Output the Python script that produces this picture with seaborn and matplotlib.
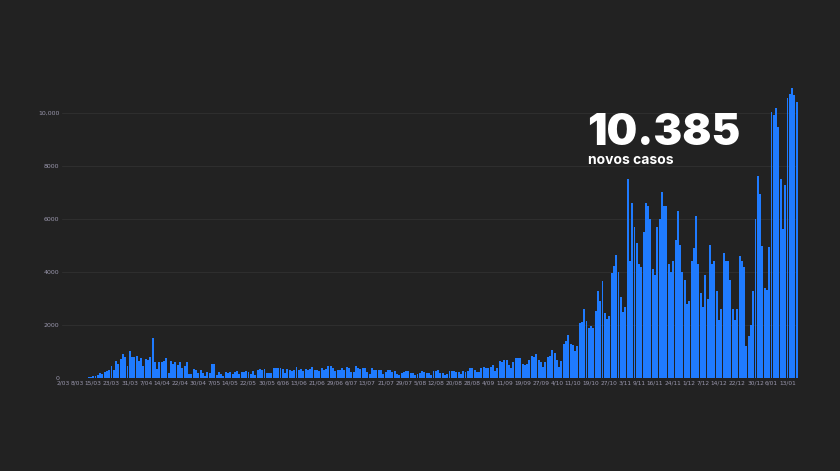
import matplotlib
matplotlib.use("Agg")
import matplotlib.pyplot as plt
import seaborn as sns
import pandas as pd

mar = [2,2,1,4,4,8,9,9,11,18,19,34,57,76,86,117,194,143,235,260,320,460,302,633,549,724,902,792,446,1035]
apr = [808,783,852,638,754,452,712,699,815,1516,598,349,598,629,643,750,181,657,521,629,516,603,371,444,595,163,174,345,305,183]
may = [295,181,92,242,178,533,553,138,226,174,98,234,187,219,173,228,288,175,223,252,288,252,163,257,138,295,350,304,350,193,200]
jun = [195,366,376,382,377,330,192,346,294,288,294,421,294,335,287,345,311,346,417,323,326,259,367,311,343,451,457,366,265,313]
jul = [328,402,313,413,374,229,232,443,375,339,374,402,219,175,375,297,319,312,305,167,229,315,312,247,253,174,135,203,227,266,255]
aug = [211,204,106,141,204,278,233,188,186,134,253,290,325,181,193,135,151,256,259,289,226,222,174,283,236,285,401,387,325,229,232]
sep = [392,410,390,387,406,486,271,386,646,620,687,673,486,401,613,770,780,770,552,509,553,691,827,797,898,684,609,425,611,791]
oct_ = [848,1077,963,700,427,649,1302,1394,1646,1278,1249,1017,1200,2072,2101,2608,2153,1889,1949,1876,2535,3270,2899,3669,2447,2240,2344,3960,4224,4656,4007]
nov = [3062,2506,2696,7497,4400,6600,5700,5100,4300,4200,5500,6600,6500,6000,4100,3900,5700,6000,7000,6500,6500,4300,4000,4400,5200,6300,5000,4000,3700,2800]
dec = [2900,4400,4900,6100,4300,3200,2700,3900,3000,5000,4300,4400,3300,2200,2600,4700,4400,4400,3700,2600,2200,2600,4600,4400,4200,1200,1600,2000,3300,6000,7600]
jan = [6951,4963,3384,3310,4956,10027,9927,10176,9478,7502,5604,7259,10556,10698,10947,10663,10385]
tick_labels = ["2/03","8/03","15/03","23/03","31/03","7/04","14/04","22/04","30/04","7/05","14/05","22/05",
               "30/05","6/06","13/06","21/06","29/06","6/07","13/07","21/07","29/07","5/08","12/08","20/08",
               "28/08","4/09","11/09","19/09","27/09","4/10","11/10","19/10","27/10","3/11","9/11","16/11",
               "24/11","1/12","7/12","14/12","22/12","30/12","6/01","13/01"]

values = mar+apr+may+jun+jul+aug+sep+oct_+nov+dec+jan
dates = pd.date_range("2020-03-02", periods=len(values))
labels = [f"{d.day}/{d.month:02d}" for d in dates]
df = pd.DataFrame({"d": labels, "v": values, "i": range(len(values))})

bg = "#222222"
sns.set_style("dark")
fig = plt.figure(figsize=(8.4, 4.71), dpi=100, facecolor=bg)
ax = fig.add_axes([0.074, 0.197, 0.876, 0.623])
ax.set_facecolor(bg)
sns.barplot(data=df, x="i", y="v", color="#1f7bff", saturation=1, width=0.85, ax=ax, edgecolor="none")
ax.set_xlim(-0.6, len(values) - 0.4)
ax.set_ylim(0, 11050)
pos = [labels.index(t) for t in tick_labels]
ax.set_xticks(pos)
ax.set_xticklabels(tick_labels, fontsize=4.2, color="#9a97ad")
ax.set_yticks([0, 2000, 4000, 6000, 8000, 10000])
ax.set_yticklabels(["0", "2000", "4000", "6000", "8000", "10,000"], fontsize=4.5, color="#9a97ad")
ax.tick_params(length=0, pad=2)
ax.grid(axis="y", color="#2e2e2e", linewidth=0.8)
ax.grid(axis="x", visible=False)
ax.set_axisbelow(True)
ax.set_xlabel(""); ax.set_ylabel("")
for s in ax.spines.values():
    s.set_visible(False)
fig.text(0.699, 0.692, "10.385", fontsize=31, fontweight="black", color="white", family=["Inter", "DejaVu Sans"])
fig.text(0.700, 0.652, "novos casos", fontsize=10, fontweight="bold", color="white", family=["Inter", "DejaVu Sans"])
fig.savefig("out.png", dpi=100, facecolor=bg)
